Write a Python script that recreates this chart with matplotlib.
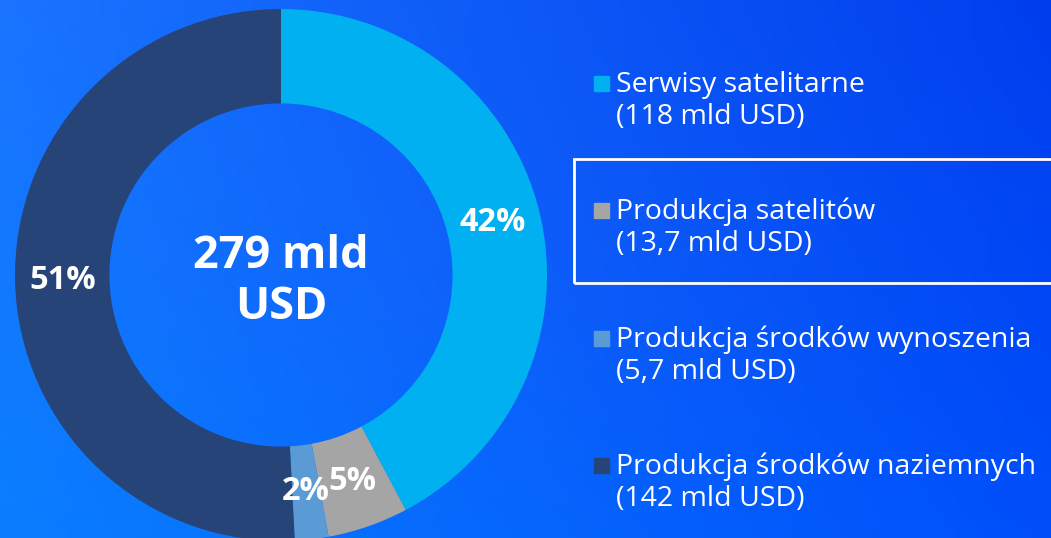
import numpy as np
import matplotlib.pyplot as plt
from matplotlib.patches import Rectangle
from matplotlib.colors import to_rgb

plt.rcParams['font.family'] = ['Open Sans', 'DejaVu Sans']

# data
names = ['Serwisy satelitarne', 'Produkcja satelitów',
         'Produkcja środków wynoszenia', 'Produkcja środków naziemnych']
values = [118, 13.7, 5.7, 142]
value_labels = ['118', '13,7', '5,7', '142']
colors = ['#00b0f0', '#a5a5a5', '#5b9bd5', '#264478']
total_label = '279 mld\nUSD'

W, H = 1051, 538
fig = plt.figure(figsize=(W / 100, H / 100), dpi=100)

# gradient background (bilinear between the four corners)
bg = fig.add_axes([0, 0, 1, 1], zorder=0)
tl, tr = np.array(to_rgb('#1a74ff')), np.array(to_rgb('#003eee'))
bl, br = np.array(to_rgb('#0a7eff')), np.array(to_rgb('#004ffb'))
u = np.linspace(0, 1, 200)[None, :, None]
v = np.linspace(0, 1, 100)[:, None, None]
img = (1 - v) * ((1 - u) * tl + u * tr) + v * ((1 - u) * bl + u * br)
# slight lighter glow near the middle
d = np.sqrt((u - 0.5) ** 2 + (v - 0.5) ** 2)
img = img + 0.06 * np.exp(-(d / 0.35) ** 2) * np.array([0.3, -0.1, 0.0])
bg.imshow(np.clip(img, 0, 1), aspect='auto', extent=[0, 1, 0, 1], origin='upper')
bg.set_axis_off()

# donut
R = 266
cxp, cyp = 281, 275
ax = fig.add_axes([(cxp - R) / W, (H - cyp - R) / H, 2 * R / W, 2 * R / H], zorder=1)
wedges, texts, autotexts = ax.pie(
    values, colors=colors, startangle=90, counterclock=False,
    radius=1, wedgeprops=dict(width=0.355, edgecolor='none'),
    autopct=lambda p: f'{p:.0f}%', pctdistance=0.82,
    textprops=dict(color='white', fontsize=23.5, fontweight='bold'))
ax.set_xlim(-1, 1)
ax.set_ylim(-1, 1)
ax.set_axis_off()
ax.text(0, -0.025, total_label, ha='center', va='center', color='white',
        fontsize=32.5, fontweight='bold', linespacing=1.18)

# legend
for i, (name, val, col) in enumerate(zip(names, value_labels, colors)):
    yb = 92 + i * 127.3
    fig.patches.append(Rectangle((594 / W, 1 - (yb - 1) / H), 15 / W, 15 / H,
                                 transform=fig.transFigure, color=col, zorder=3))
    fig.text(616 / W, 1 - yb / H, name, color='white', fontsize=20.5,
             va='baseline', ha='left', zorder=3)
    fig.text(616 / W, 1 - (yb + 32) / H, f'({val} mld USD)', color='white',
             fontsize=20.5, va='baseline', ha='left', zorder=3)

# highlight box around the second legend entry
fig.patches.append(Rectangle((574 / W, 1 - 283 / H), 500 / W, 124 / H,
                             transform=fig.transFigure, fill=False,
                             edgecolor='white', lw=2, zorder=3))

fig.savefig('out.png', dpi=100)
